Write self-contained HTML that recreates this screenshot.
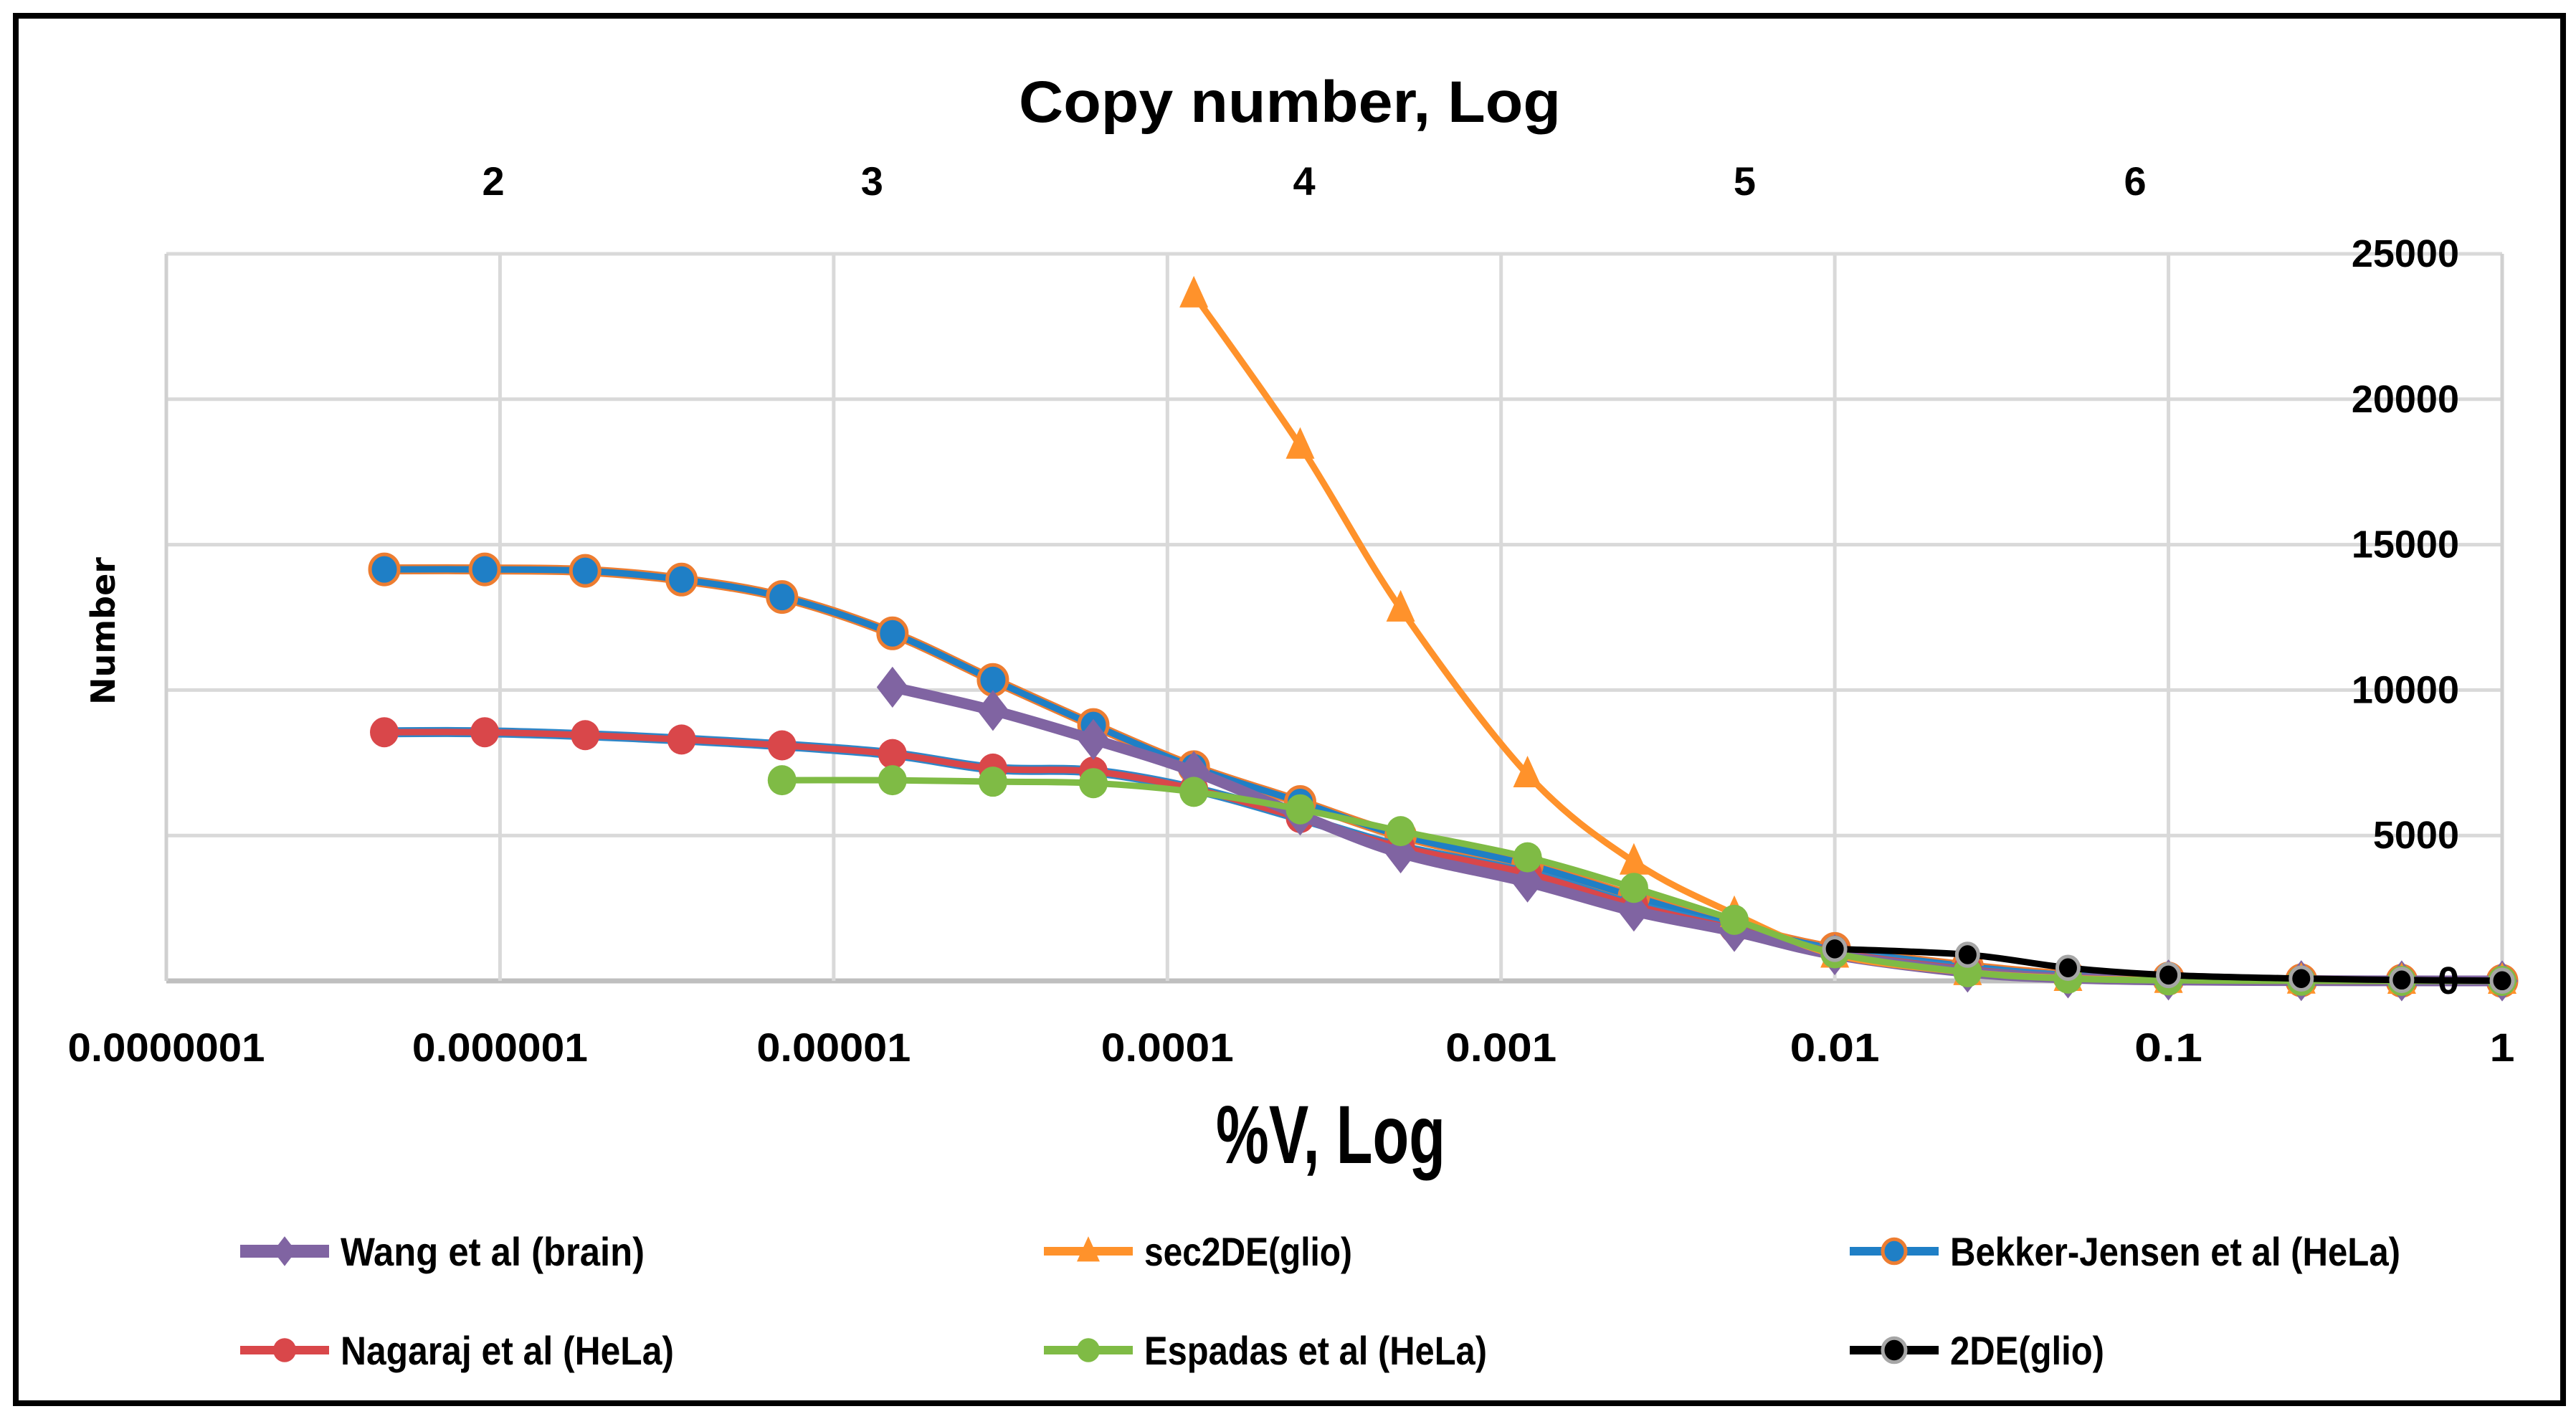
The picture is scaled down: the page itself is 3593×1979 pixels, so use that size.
<!DOCTYPE html>
<html><head><meta charset="utf-8"><style>
html,body{margin:0;padding:0;background:#fff;}
svg{display:block;}
text{font-family:"Liberation Sans",sans-serif;font-weight:bold;fill:#000;}
</style></head><body>
<svg id="chart" width="3593" height="1979" viewBox="0 0 3593 1979" xmlns="http://www.w3.org/2000/svg">
<rect x="22" y="22" width="3553" height="1935" fill="#fff" stroke="#000" stroke-width="8"/>
<g id="grid"></g>
<g id="series"></g>
<g id="axes"></g>
<text x="1799" y="170" text-anchor="middle" font-size="82" textLength="756" lengthAdjust="spacingAndGlyphs">Copy number, Log</text>
<text x="1856" y="1622" text-anchor="middle" font-size="115" textLength="320" lengthAdjust="spacingAndGlyphs">%V, Log</text>
<text transform="translate(160,880) rotate(-90)" text-anchor="middle" font-size="46" style="font-family:'DejaVu Sans',sans-serif">Number</text>
<g id="legend"></g>
</svg>
<script>
const xValues = [4.5e-7, 9e-7, 1.8e-6, 3.5e-6, 7e-6, 1.5e-5, 3e-5, 6e-5, 1.2e-4, 2.5e-4, 5e-4, 1.2e-3, 2.5e-3, 5e-3, 0.01, 0.025, 0.05, 0.1, 0.25, 0.5, 1];
const bekkerValues = [14150, 14150, 14100, 13800, 13200, 11950, 10350, 8800, 7350, 6150, 5000, 4000, 2900, 1900, 1100, 500, 200, 80, 20, 5, 0];
const nagarajValues = [8550, 8550, 8450, 8300, 8100, 7800, 7300, 7200, 6600, 5600, 4600, 3700, 2600, 1800, 1000, 400, 150, 50, 10, 3, 0];
const espadasValues = [null, null, null, null, 6900, 6900, 6850, 6800, 6500, 5900, 5150, 4250, 3200, 2100, 950, 300, 80, 20, 5, 1, 0];
const wangValues = [null, null, null, null, null, 10100, 9300, 8300, 7200, 5700, 4400, 3400, 2400, 1700, 900, 300, 100, 30, 8, 2, 0];
const sec2deValues = [null, null, null, null, null, null, null, null, 23600, 18400, 12800, 7100, 4100, 2300, 900, 300, 100, 30, 5, 1, 0];
const de2Values = [null, null, null, null, null, null, null, null, null, null, null, null, null, null, 1100, 900, 450, 200, 80, 30, 5];
const xTickLabels = ["0.0000001","0.000001","0.00001","0.0001","0.001","0.01","0.1","1"];
const yTickValues = [0, 5000, 10000, 15000, 20000, 25000];
const topTickLabels = ["2","3","4","5","6"];
const topTickPositions = [0.98, 2.115, 3.41, 4.73, 5.90]; // decades from left edge

const NS = "http://www.w3.org/2000/svg";
const L = 232, R = 3490, T = 354, B = 1368;
const xMinLog = -7, xMaxLog = 0, yMax = 25000;
function xScale(v){ return L + (Math.log10(v) - xMinLog) / (xMaxLog - xMinLog) * (R - L); }
function xDec(d){ return L + d / 7 * (R - L); }
function yScale(v){ return B - v / yMax * (B - T); }
function mk(tag, attrs, parent){ const e = document.createElementNS(NS, tag); for (const k in attrs) e.setAttribute(k, attrs[k]); parent.appendChild(e); return e; }

const grid = document.getElementById('grid');
const axes = document.getElementById('axes');
yTickValues.forEach(v => {
  const ln = mk('line', {x1: L, x2: R, y1: yScale(v), y2: yScale(v), stroke: v === 0 ? '#bfbfbf' : '#d9d9d9', 'stroke-width': v === 0 ? 7 : 5}, grid);
  
  
  const t = mk('text', {x: 3430, y: yScale(v) + 18, 'text-anchor': 'end', 'font-size': 54}, axes);
  t.textContent = String(v);
  
  
});
xTickLabels.forEach((lab, i) => {
  const x = xScale(Math.pow(10, xMinLog + i));
  const ln = mk('line', {x1: x, x2: x, y1: T, y2: B, stroke: (i === 0 || i === 7) ? '#d0d0d0' : '#d9d9d9', 'stroke-width': 5}, grid);
  
  
  const t = mk('text', {x: x, y: 1480, 'text-anchor': 'middle', 'font-size': 56, textLength: 30 * lab.length + 5, lengthAdjust: 'spacingAndGlyphs'}, axes);
  t.textContent = lab;
  
  
});
topTickLabels.forEach((lab, i) => {
  const t = mk('text', {x: xDec(topTickPositions[i]), y: 272, 'text-anchor': 'middle', 'font-size': 56}, axes);
  t.textContent = lab;
  
  
});

function smoothPath(pts){
  if (pts.length < 2) return '';
  let d = `M${pts[0][0]},${pts[0][1]}`;
  for (let i = 0; i < pts.length - 1; i++){
    const p0 = pts[i-1] || pts[i], p1 = pts[i], p2 = pts[i+1], p3 = pts[i+2] || p2;
    const c1 = [p1[0] + (p2[0]-p0[0])/6, p1[1] + (p2[1]-p0[1])/6];
    const c2 = [p2[0] - (p3[0]-p1[0])/6, p2[1] - (p3[1]-p1[1])/6];
    d += ` C${c1[0]},${c1[1]} ${c2[0]},${c2[1]} ${p2[0]},${p2[1]}`;
  }
  return d;
}
function marker(g, shape, x, y, fill, stroke, size){
  let e;
  if (shape === 'circle') e = mk('ellipse', {cx: x, cy: y, rx: size, ry: size*1.05, fill: fill, stroke: stroke, 'stroke-width': 5}, g);
  else if (shape === 'diamond') e = mk('polygon', {points: `${x},${y-size*1.3} ${x+size},${y} ${x},${y+size*1.3} ${x-size},${y}`, fill: fill}, g);
  else e = mk('polygon', {points: `${x},${y-size*1.3} ${x+size},${y+size*0.9} ${x-size},${y+size*0.9}`, fill: fill}, g);
  return e;
}
const series = [
  {name: 'bekker-jensen', vals: bekkerValues, color: '#1f7fc6', outline: '#ed7d31', mstroke: '#ed7d31', shape: 'circle', lw: 9, ms: 20, label: 'Bekker-Jensen et al (HeLa)'},
  {name: 'nagaraj', vals: nagarajValues, color: '#d9474a', outline: '#2e86c8', mstroke: 'none', shape: 'circle', lw: 9, ms: 20, label: 'Nagaraj et al (HeLa)'},
  {name: 'wang', vals: wangValues, color: '#8064a2', outline: null, mstroke: 'none', shape: 'diamond', lw: 15, ms: 22, label: 'Wang et al (brain)'},
  {name: 'sec2de', vals: sec2deValues, color: '#ff922b', outline: null, mstroke: 'none', shape: 'triangle', lw: 9, ms: 20, label: 'sec2DE(glio)'},
  {name: 'espadas', vals: espadasValues, color: '#7fbb45', outline: null, mstroke: 'none', shape: 'circle', lw: 9, ms: 20, label: 'Espadas et al (HeLa)'},
  {name: '2de', vals: de2Values, color: '#000', outline: null, mstroke: '#a6a6a6', shape: 'circle', lw: 9, ms: 15, label: '2DE(glio)'}
];
const sg = document.getElementById('series');
series.forEach(s => {
  const g = mk('g', {}, sg);
  
  
  const pts = [];
  s.vals.forEach((v, i) => { if (v !== null) pts.push([xScale(xValues[i]), yScale(v)]); });
  if (s.outline) {
    const o = mk('path', {d: smoothPath(pts), fill: 'none', stroke: s.outline, 'stroke-width': s.lw + 5, 'stroke-linejoin': 'round'}, g);
    
    
  }
  const p = mk('path', {d: smoothPath(pts), fill: 'none', stroke: s.color, 'stroke-width': s.lw, 'stroke-linejoin': 'round'}, g);
  
  
  pts.forEach(pt => {
    const m = marker(g, s.shape, pt[0], pt[1], s.color, s.mstroke, s.ms);
    
    
  });
});

const legendItems = [
  {si: 2, x: 397, y: 1745, w: 424}, {si: 3, x: 1518, y: 1745, w: 290}, {si: 0, x: 2642, y: 1745, w: 628},
  {si: 1, x: 397, y: 1883, w: 465}, {si: 4, x: 1518, y: 1883, w: 478}, {si: 5, x: 2642, y: 1883, w: 215}
];
const lg = document.getElementById('legend');
legendItems.forEach(it => {
  const s = series[it.si];
  const g = mk('g', {}, lg);
  
  
  mk('line', {x1: it.x - 62, x2: it.x + 62, y1: it.y, y2: it.y, stroke: s.color, 'stroke-width': s.lw + 3}, g);
  marker(g, s.shape, it.x, it.y, s.color, s.mstroke, 16);
  const t = mk('text', {x: it.x + 78, y: it.y + 20, 'font-size': 56, textLength: it.w, lengthAdjust: 'spacingAndGlyphs'}, g);
  t.textContent = s.label;
  
  
});
</script>
</body></html>
